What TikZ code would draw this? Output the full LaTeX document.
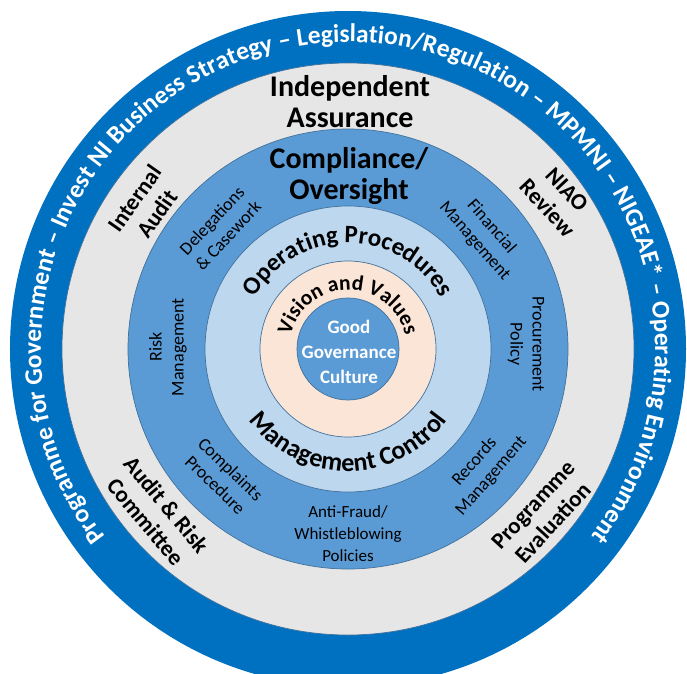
\documentclass[tikz,border=0pt]{standalone}
\usepackage{fontspec}
\setmainfont{Carlito}
\usetikzlibrary{decorations.text}
\definecolor{envblue}{HTML}{0070C0}
\definecolor{assgray}{HTML}{E7E6E6}
\definecolor{midblue}{HTML}{5B9BD5}
\definecolor{paleblue}{HTML}{BDD7EE}
\definecolor{peach}{HTML}{FBE5D6}
\definecolor{rimline}{HTML}{41719C}

\begin{document}
\begin{tikzpicture}[x=1pt, y=1pt,
	ring/.style={draw=rimline, line width=0.7pt},
	head/.style={font=\fontsize{30}{31}\selectfont\bfseries, align=center, anchor=base},
	side/.style={font=\fontsize{23}{27}\selectfont\bfseries, align=center},
	item/.style={font=\fontsize{18}{22}\selectfont, align=center}]
		\useasboundingbox (-348,-324) rectangle (339,349);
		\fill[envblue] (0,0) circle (338);
		\filldraw[fill=assgray, ring] (0,0) circle (286);
		\filldraw[fill=midblue, ring] (0,0) circle (220);
		\filldraw[fill=paleblue, ring] (0,0) circle (143);
		\filldraw[fill=peach, ring] (0,0) circle (88);
		\filldraw[fill=midblue, ring] (0,0) circle (51);
		\path[decorate, decoration={text along path, text align=center,
			text={|\color{white}\bfseries\fontsize{25.5}{26}\selectfont|Programme for Government – Invest NI Business Strategy – Legislation/Regulation – MPMNI – NIGEAE* – Operating Environment}}]
			(270:307) arc[start angle=270, end angle=-90, radius=307];
		\path[decorate, decoration={text along path, text align=center,
			text={|\fontsize{25}{26}\selectfont\bfseries|Operating Procedures}}]
			(200:106) arc[start angle=200, end angle=-20, radius=106];
		\path[decorate, decoration={text along path, text align=center,
			text={|\fontsize{21.5}{22}\selectfont\bfseries|Vision and Values}}]
			(200:59) arc[start angle=200, end angle=-20, radius=59];
		\path[decorate, decoration={text along path, text align=center,
			text={|\fontsize{26}{27}\selectfont\bfseries|Management Control}}]
			(160:122) arc[start angle=160, end angle=380, radius=122];
		\node[head] (assure) at (2,222) {Independent\\Assurance};
		\node[head] (comply) at (1,150) {Compliance/\\Oversight};
		\node[font=\fontsize{19}{25}\selectfont\bfseries, text=white, align=center] (culture) at (1,-3) {Good\\Governance\\Culture};
		\node[side, rotate=55] (intaudit) at (-202,143) {Internal\\Audit};
		\node[side, rotate=-47] (niao) at (209,150) {NIAO\\Review};
		\node[side, rotate=-50] (arcomm) at (-192,-164) {Audit \& Risk\\Committee};
		\node[side, rotate=47.5] (progeval) at (195,-165) {Programme\\Evaluation};
		\node[item, rotate=47] (deleg) at (-128,121) {Delegations\\\& Casework};
		\node[item, rotate=-49] (finman) at (135,115) {Financial\\Management};
		\node[item, rotate=90] (riskman) at (-180,2) {Risk\\Management};
		\node[item, rotate=-90] (procure) at (178,5) {Procurement\\Policy};
		\node[item, rotate=-44] (complain) at (-125,-128) {Complaints\\Procedure};
		\node[item, rotate=49] (records) at (135,-120) {Records\\Management};
		\node[item, font=\fontsize{17}{22}\selectfont] (antifraud) at (0,-185) {Anti-Fraud/\\Whistleblowing\\Policies};
\end{tikzpicture}
\end{document}
